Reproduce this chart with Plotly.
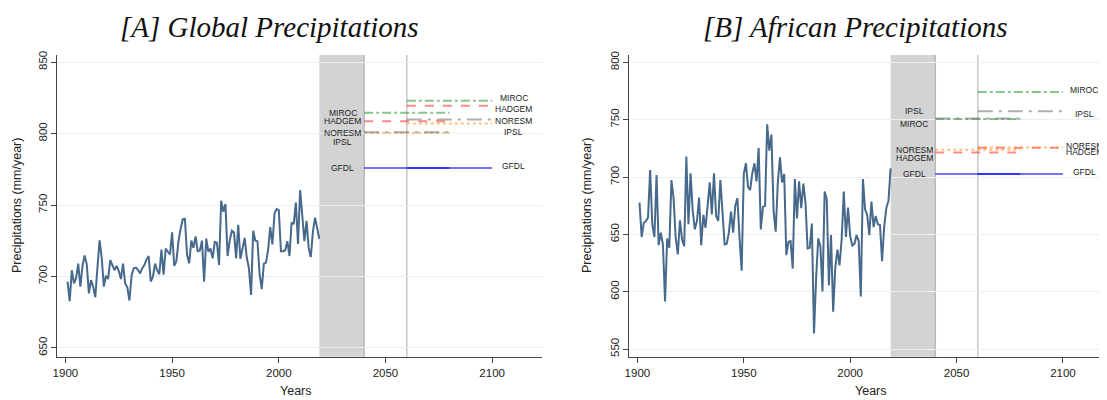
import plotly.graph_objects as go

# ---------------- data ----------------
years = list(range(1901, 2020))

global_precip = [
    696.5, 682.7, 704.4, 695.2, 698.8, 709.0, 692.9, 707.4, 714.7, 708.5,
    688.2, 697.5, 692.9, 685.5, 706.2, 725.3, 713.1, 692.9, 700.5, 698.2,
    711.5, 707.4, 704.4, 707.4, 703.9, 698.2, 709.0, 695.2, 692.4, 683.2,
    700.5, 705.8, 706.2, 704.6, 702.1, 705.8, 708.1, 712.0, 714.3, 696.5,
    699.8, 709.0, 704.4, 701.6, 718.9, 701.2, 719.6, 717.3, 715.4, 730.9,
    707.4, 710.8, 724.7, 733.4, 740.1, 740.3, 715.4, 709.2, 725.1, 720.0,
    728.1, 717.7, 718.2, 725.1, 696.3, 726.5, 717.3, 719.6, 712.7, 724.2,
    723.7, 708.1, 753.0, 745.4, 750.7, 714.3, 725.1, 732.0, 730.9, 712.7,
    736.2, 712.4, 720.5, 727.0, 713.1, 705.8, 687.1, 732.0, 725.1, 724.7,
    701.6, 691.2, 709.0, 709.7, 718.7, 734.6, 722.4, 744.2, 747.2, 746.5,
    717.7, 717.7, 718.4, 724.7, 714.3, 737.8, 736.6, 751.8, 722.8, 760.4,
    742.6, 724.7, 738.9, 720.0, 713.6, 731.6, 741.2, 732.7, 726.3,
]

africa_precip = [
    677.8, 647.7, 660.2, 661.7, 664.6, 706.1, 658.8, 647.7, 701.8, 640.6,
    651.5, 641.2, 591.5, 646.5, 638.3, 697.4, 681.6, 647.1, 632.5, 662.3,
    645.6, 639.8, 717.8, 658.8, 703.2, 670.5, 654.4, 661.7, 682.2, 640.6,
    667.0, 655.8, 674.9, 695.3, 667.5, 703.2, 666.1, 661.7, 697.4, 664.6,
    641.2, 641.8, 651.5, 669.9, 651.5, 674.9, 681.6, 647.1, 618.4, 702.6,
    712.0, 691.5, 688.6, 703.2, 712.0, 696.2, 725.4, 654.4, 674.0, 674.9,
    745.9, 723.1, 737.1, 670.5, 652.3, 695.3, 717.3, 695.3, 702.6, 631.9,
    643.6, 644.2, 620.2, 698.2, 664.0, 696.2, 672.8, 694.4, 677.8, 637.7,
    638.3, 659.4, 563.7, 612.0, 646.5, 639.8, 600.3, 687.4, 680.7, 605.6,
    649.4, 582.7, 620.8, 636.8, 623.1, 645.6, 687.4, 647.7, 673.4, 648.5,
    640.4, 641.8, 649.4, 644.2, 595.9, 698.2, 671.9, 667.0, 649.4, 678.7,
    656.4, 666.1, 658.8, 658.2, 626.6, 657.3, 672.8, 679.2, 707.6,
]

models = ["MIROC", "HADGEM", "NORESM", "IPSL", "GFDL"]

mid_period = [2040, 2080]
end_period = [2060, 2100]
shade_period = [2019, 2040]
marker_year = 2060

global_mid = [814.5, 808.7, 800.6, 801.0, 776.0]
global_end = [822.9, 819.4, 807.1, 809.9, 776.0]
africa_mid = [750.5, 721.3, 723.9, 751.0, 702.6]
africa_end = [774.2, 725.5, 725.7, 757.3, 702.6]

# label heights (data units) for the model names
global_lab_mid = [814.5, 808.7, 800.1, 794.2, 775.8]
global_lab_end = [824.6, 817.1, 808.7, 801.2, 777.4]
africa_lab_mid = [745.9, 716.9, 723.9, 757.3, 702.3]
africa_lab_end = [775.7, 721.7, 727.4, 755.3, 704.6]
label_x_mid = 2030
label_x_end = 2110

x_ticks = [1900, 1950, 2000, 2050, 2100]
global_y_ticks = [650, 700, 750, 800, 850]
africa_y_ticks = [550, 600, 650, 700, 750, 800]

# ---------------- styles ----------------
OFF = 8  # page body margin
W, H = 1107 - OFF, 400 - OFF
series_color = "#46698c"
model_style = {
    "MIROC": dict(color="rgba(40,150,40,0.55)", dash="dashdot"),
    "HADGEM": dict(color="rgba(255,40,40,0.55)", dash="dash"),
    "NORESM": dict(color="rgba(255,150,40,0.6)", dash="dot"),
    "IPSL": dict(color="rgba(120,120,120,0.6)", dash="longdashdot"),
    "GFDL": dict(color="rgba(0,0,255,0.55)", dash="solid"),
}


def px_x(p):
    return (p - OFF) / W


def px_y(p):
    return 1 - (p - OFF) / H


fig = go.Figure()

panels = [
    dict(xa="x", ya="y", series=global_precip, mid=global_mid, end=global_end,
         lmid=global_lab_mid, lend=global_lab_end),
    dict(xa="x2", ya="y2", series=africa_precip, mid=africa_mid, end=africa_end,
         lmid=africa_lab_mid, lend=africa_lab_end),
]

annotations = []
shapes = []
lab_font = dict(family="Liberation Sans, Arial", size=8.5, color="#222")
for p in panels:
    xa, ya = p["xa"], p["ya"]
    shapes.append(dict(type="rect", xref=xa, yref=ya + " domain",
                       x0=shade_period[0], x1=shade_period[1], y0=0, y1=1,
                       fillcolor="#d3d3d3", line=dict(width=0), layer="below"))
    shapes.append(dict(type="line", xref=xa, yref=ya + " domain",
                       x0=shade_period[1], x1=shade_period[1], y0=0, y1=1,
                       line=dict(color="#b9b9b9", width=1.5), layer="below"))
    shapes.append(dict(type="line", xref=xa, yref=ya + " domain",
                       x0=marker_year, x1=marker_year, y0=0, y1=1,
                       line=dict(color="#c6c6c6", width=1.5), layer="below"))
    fig.add_trace(go.Scatter(x=years, y=p["series"], mode="lines", xaxis=xa, yaxis=ya,
                             line=dict(color=series_color, width=2), showlegend=False,
                             hoverinfo="skip"))
    for i, m in enumerate(models):
        st = model_style[m]
        fig.add_trace(go.Scatter(x=mid_period, y=[p["mid"][i]] * 2, mode="lines",
                                 xaxis=xa, yaxis=ya, showlegend=False, hoverinfo="skip",
                                 line=dict(color=st["color"], dash=st["dash"], width=2)))
        fig.add_trace(go.Scatter(x=end_period, y=[p["end"][i]] * 2, mode="lines",
                                 xaxis=xa, yaxis=ya, showlegend=False, hoverinfo="skip",
                                 line=dict(color=st["color"], dash=st["dash"], width=2)))
        annotations.append(dict(x=label_x_mid, y=p["lmid"][i], xref=xa, yref=ya, text=m,
                                showarrow=False, xanchor="center", yanchor="middle",
                                font=lab_font))
        annotations.append(dict(x=label_x_end, y=p["lend"][i], xref=xa, yref=ya, text=m,
                                showarrow=False, xanchor="center", yanchor="middle",
                                font=lab_font))

title_font = dict(family="Liberation Serif, Times New Roman, serif", size=29, color="#111")
annotations.append(dict(x=px_x(269), y=px_y(27), xref="paper", yref="paper",
                        text="<i>[A] Global Precipitations</i>", showarrow=False,
                        xanchor="center", yanchor="middle", font=title_font))
annotations.append(dict(x=px_x(855), y=px_y(27), xref="paper", yref="paper",
                        text="<i>[B] African Precipitations</i>", showarrow=False,
                        xanchor="center", yanchor="middle", font=title_font))

axis_title_font = dict(family="Liberation Sans, Arial", size=12.5, color="#222")
for cx in (296, 871):
    annotations.append(dict(x=px_x(cx), y=px_y(391), xref="paper", yref="paper",
                            text="Years", showarrow=False, xanchor="center",
                            yanchor="middle", font=axis_title_font))
for cx in (17, 587):
    annotations.append(dict(x=px_x(cx), y=px_y(206), xref="paper", yref="paper",
                            text="Precipitations (mm/year)", showarrow=False,
                            xanchor="center", yanchor="middle", textangle=-90,
                            font=axis_title_font))

tick_font = dict(family="Liberation Sans, Arial", size=11.5, color="#222")
common_x = dict(tickvals=x_ticks, ticks="outside", ticklen=5, tickcolor="#444",
                showline=True, linecolor="#444", linewidth=1, showgrid=False,
                zeroline=False, tickfont=tick_font, automargin=False)
common_y = dict(ticks="outside", ticklen=5, tickcolor="#444", showline=True,
                linecolor="#444", linewidth=1, showgrid=True, gridcolor="#e8f0f2",
                gridwidth=1, zeroline=False, tickfont=tick_font, tickangle=-90,
                automargin=False)

y_dom = [px_y(356.8), px_y(55)]
fig.update_layout(
    width=W, height=H,
    margin=dict(l=0, r=0, t=0, b=0),
    paper_bgcolor="white", plot_bgcolor="white",
    xaxis=dict(domain=[px_x(57.1), px_x(542.1)], range=[1896.1, 2123.4],
               anchor="y", **common_x),
    yaxis=dict(domain=y_dom, range=[643.8, 855], tickvals=global_y_ticks,
               anchor="x", **common_y),
    xaxis2=dict(domain=[px_x(629.3), 1.0], range=[1896.2, 2120.7],
                anchor="y2", **common_x),
    yaxis2=dict(domain=y_dom, range=[543.3, 806.4], tickvals=africa_y_ticks,
                anchor="x2", **common_y),
    shapes=shapes,
    annotations=annotations,
    showlegend=False,
)

fig.write_html("out.html")
